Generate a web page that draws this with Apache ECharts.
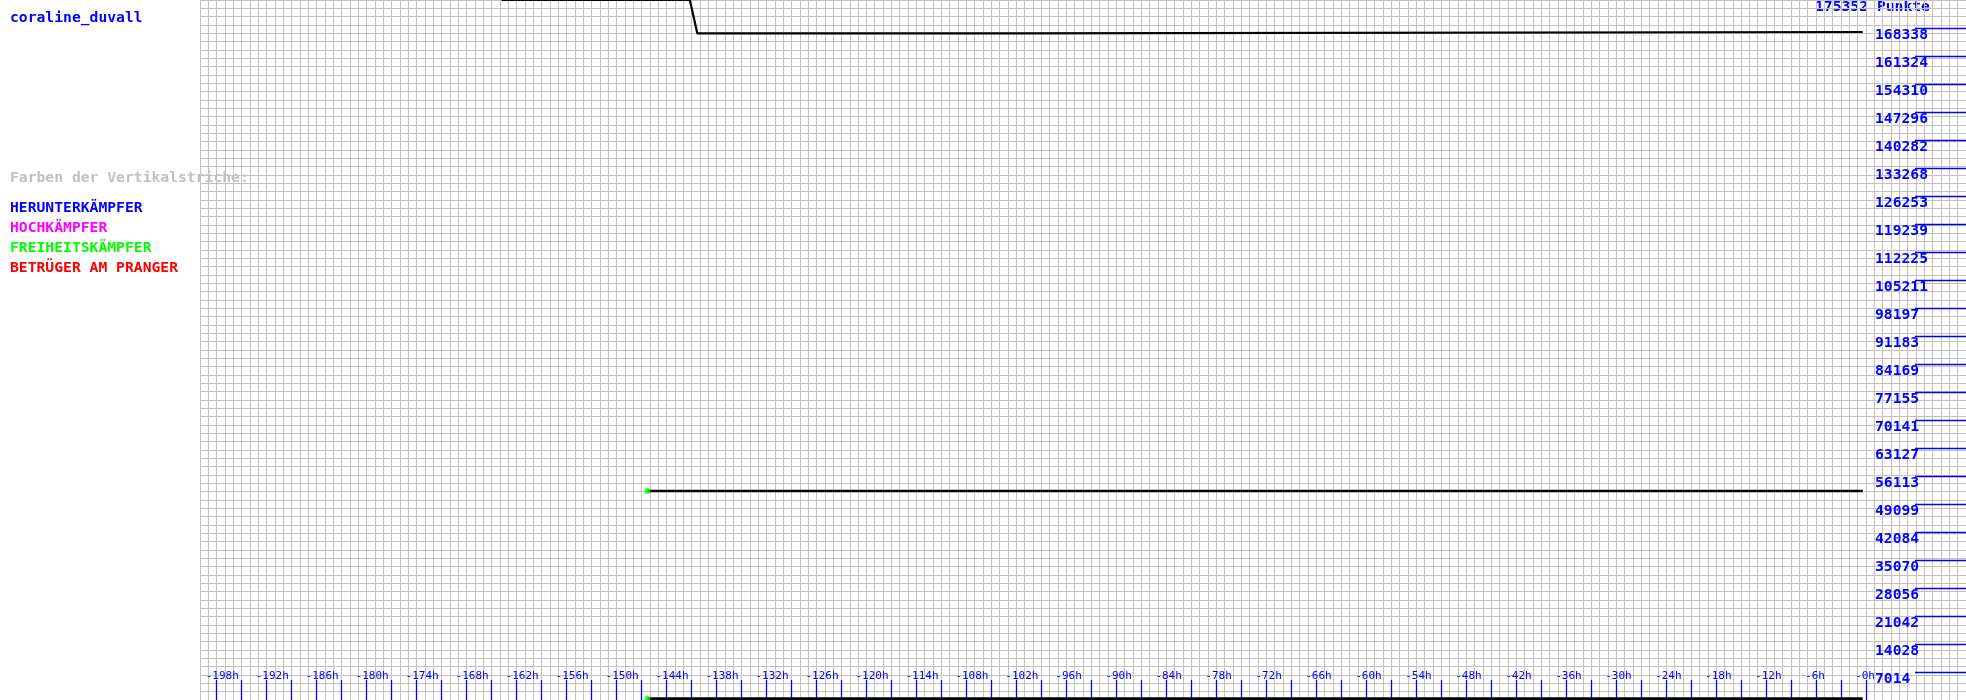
<!DOCTYPE html>
<html>
<head>
<meta charset="utf-8">
<script src="https://cdn.jsdelivr.net/npm/echarts@6/dist/echarts.min.js"></script>
<style>
html,body{margin:0;padding:0;background:#fff;}
#chart{width:1966px;height:700px;}
</style>
</head>
<body>
<div id="chart"></div>
<script>
// ---- data ----
const playerName = 'coraline_duvall';
const totalLabel = '175352 Punkte';
const yMax = 175352;
const legendTitle = 'Farben der Vertikalstriche:';
const legendItems = ['HERUNTERKÄMPFER', 'HOCHKÄMPFER', 'FREIHEITSKÄMPFER', 'BETRÜGER AM PRANGER'];
const legendColors = ['#0000ff', '#ff00ff', '#00ff00', '#ff0000'];

const xLabelHours = [-198,-192,-186,-180,-174,-168,-162,-156,-150,-144,-138,-132,-126,-120,-114,-108,-102,-96,-90,-84,-78,-72,-66,-60,-54,-48,-42,-36,-30,-24,-18,-12,-6,0];
const xTickLabels = ['-198h','-192h','-186h','-180h','-174h','-168h','-162h','-156h','-150h','-144h','-138h','-132h','-126h','-120h','-114h','-108h','-102h','-96h','-90h','-84h','-78h','-72h','-66h','-60h','-54h','-48h','-42h','-36h','-30h','-24h','-18h','-12h','-6h','-0h'];
const yTickLabels = ['7014','14028','21042','28056','35070','42084','49099','56113','63127','70141','77155','84169','91183','98197','105211','112225','119239','126253','133268','140282','147296','154310','161324','168338'];

const topLineHours  = [-163.8, -141.2, -140.3, -102.5, -102.3, -0.4];
const topLineValues = [175352, 175352, 167000, 167000, 167340, 167340];
const midLineHours  = [-146.3, -0.4];
const midLineValues = [52360, 52360];
const lowLineHours  = [-146.3, -0.4];
const lowLineValues = [330, 330];
const markerHours   = [-146.3, -146.3];
const markerValues  = [52360, 330];

// ---- build ----
const xTickHours = [];
for (let h = -198; h <= 0; h += 3) xTickHours.push(h);
const yTickValues = yTickLabels.map(Number);

const pairs = (xs, ys) => xs.map((x, i) => [x, ys[i]]);
const gridColor = '#c2c2c2';
const blue = '#0000ff';
const mono = '"DejaVu Sans Mono", monospace';

const xMin = -200, xMax = 12;
const pxPerHour = 1766 / (xMax - xMin);
const xShift = 11 / pxPerHour;          // labels start 11px left of tick
const unitsPerPx = yMax / 700;
const yShift = 7 * unitsPerPx;           // labels centred 7px below tick

const noLine = { show: false, onZero: false };

const chart = echarts.init(document.getElementById('chart'));
const bigFont = 'bold 14.7px ' + mono;
const graphics = [
  { type: 'text', x: 10, y: 18, style: { text: playerName, fill: blue, font: bigFont, verticalAlign: 'middle' } },
  { type: 'text', x: 10, y: 178, style: { text: legendTitle, fill: '#c0c0c0', font: bigFont, verticalAlign: 'middle' } },
  { type: 'text', x: 1815, y: 7, style: { text: totalLabel, fill: blue, font: bigFont, verticalAlign: 'middle' } }
];
legendItems.forEach((t, i) => {
  graphics.push({ type: 'text', x: 10, y: 207.7 + i * 20.2, style: { text: t, fill: legendColors[i], font: bigFont, verticalAlign: 'middle' } });
});

chart.setOption({
  animation: false,
  backgroundColor: '#ffffff',
  grid: { left: 200, right: 0, top: 0, bottom: 0, containLabel: false },
  graphic: graphics,
  xAxis: [
    { type: 'value', min: xMin, max: xMax, interval: 1, axisLine: noLine, axisTick: { show: false }, axisLabel: { show: false },
      splitLine: { show: true, lineStyle: { color: gridColor, width: 1 } } },
    { type: 'value', min: xMin, max: xMax, position: 'bottom', axisLine: noLine,
      axisTick: { show: true, inside: true, length: 20, customValues: xTickHours, lineStyle: { color: blue, width: 1.3 } },
      axisLabel: { show: false }, splitLine: { show: false } },
    { type: 'value', min: xMin + xShift, max: xMax + xShift, position: 'bottom', axisLine: noLine, axisTick: { show: false },
      axisLabel: { show: true, inside: true, margin: 23.5, customValues: xLabelHours, align: 'left', verticalAlign: 'middle',
        color: blue, fontFamily: mono, fontSize: 11, fontWeight: 'normal',
        formatter: v => xTickLabels[xLabelHours.indexOf(Math.round(v))] },
      splitLine: { show: false } }
  ],
  yAxis: [
    { type: 'value', min: 0, max: yMax, position: 'right', axisLine: noLine,
      axisTick: { show: true, inside: true, length: 51, customValues: yTickValues, lineStyle: { color: blue, width: 1.3 } },
      axisLabel: { show: false }, splitLine: { show: false } },
    { type: 'value', min: 0, max: 84, interval: 1, position: 'right', axisLine: noLine, axisTick: { show: false }, axisLabel: { show: false },
      splitLine: { show: true, lineStyle: { color: gridColor, width: 1 } } },
    { type: 'value', min: yShift, max: yMax + yShift, position: 'right', axisLine: noLine, axisTick: { show: false },
      axisLabel: { show: true, inside: true, margin: 91, customValues: yTickValues, align: 'left', verticalAlign: 'middle',
        color: blue, fontFamily: mono, fontSize: 14.7, fontWeight: 'bold',
        formatter: v => yTickLabels[yTickValues.indexOf(Math.round(v))] },
      splitLine: { show: false } }
  ],
  series: [
    { type: 'line', xAxisIndex: 0, yAxisIndex: 0, data: pairs(topLineHours, topLineValues), showSymbol: false, silent: true,
      lineStyle: { color: '#000000', width: 2.2 } },
    { type: 'line', xAxisIndex: 0, yAxisIndex: 0, data: pairs(midLineHours, midLineValues), showSymbol: false, silent: true,
      lineStyle: { color: '#000000', width: 2.4 } },
    { type: 'line', xAxisIndex: 0, yAxisIndex: 0, data: pairs(lowLineHours, lowLineValues), showSymbol: false, silent: true,
      lineStyle: { color: '#000000', width: 3 } },
    { type: 'scatter', xAxisIndex: 0, yAxisIndex: 0, data: pairs(markerHours, markerValues), symbol: 'circle', symbolSize: 6,
      itemStyle: { color: '#00ff00' }, silent: true, z: 5 }
  ]
});
</script>
</body>
</html>
